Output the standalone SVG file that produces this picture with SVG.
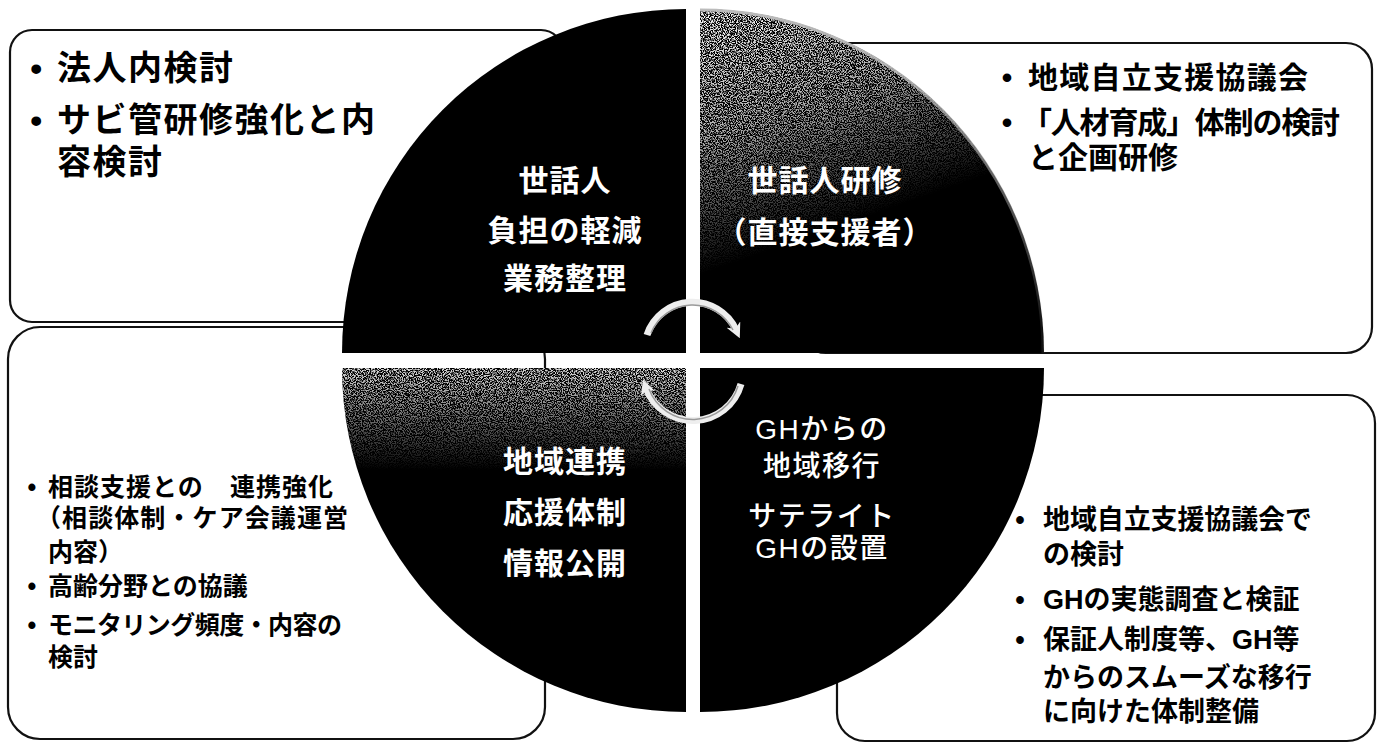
<svg xmlns="http://www.w3.org/2000/svg" width="1383" height="744" viewBox="0 0 1383 744">
<defs>
<style>
.box{fill:#fff;stroke:#111;stroke-width:2.2}
.q{fill:#000}
.t{font-family:"Liberation Sans","Noto Sans CJK JP",sans-serif;font-weight:bold;fill:#000}
.w{font-family:"Liberation Sans","Noto Sans CJK JP",sans-serif;font-weight:bold;fill:#fff;text-anchor:middle;font-size:30px;letter-spacing:1px}
.wn{font-weight:500;font-size:28px;letter-spacing:1.5px}
.arr{fill:none;stroke:#eeeeee;stroke-width:7}
.arrIn{fill:none;stroke:#9a9a9a;stroke-width:1.5}
</style>
<filter id="noise" filterUnits="userSpaceOnUse" x="330" y="0" width="730" height="730">
  <feTurbulence type="fractalNoise" baseFrequency="0.85" numOctaves="2" seed="7" result="n"/>
  <feColorMatrix in="n" type="matrix" values="0 0 0 0 0.9  0 0 0 0 0.9  0 0 0 0 0.9  6 0 0 0 -2.6"/>
</filter>
<linearGradient id="gTR" gradientUnits="userSpaceOnUse" x1="720" y1="10" x2="800" y2="240">
  <stop offset="0" stop-color="#fff" stop-opacity="1"/>
  <stop offset="0.5" stop-color="#fff" stop-opacity="0.7"/>
  <stop offset="1" stop-color="#fff" stop-opacity="0"/>
</linearGradient>
<linearGradient id="gBL" gradientUnits="userSpaceOnUse" x1="0" y1="368" x2="0" y2="470">
  <stop offset="0" stop-color="#fff" stop-opacity="0.9"/>
  <stop offset="1" stop-color="#fff" stop-opacity="0"/>
</linearGradient>
<linearGradient id="gRim" gradientUnits="userSpaceOnUse" x1="0" y1="10" x2="0" y2="330">
  <stop offset="0" stop-color="#bbb" stop-opacity="1"/>
  <stop offset="1" stop-color="#bbb" stop-opacity="0.1"/>
</linearGradient>
<mask id="mTR"><rect x="700" y="0" width="360" height="360" fill="url(#gTR)"/></mask>
<mask id="mBL"><rect x="330" y="360" width="360" height="360" fill="url(#gBL)"/></mask>
<clipPath id="cTR"><path d="M700,353 L700,9 A344,344 0 0,1 1044,353 Z"/></clipPath>
<clipPath id="cBL"><path d="M686,368 L342,368 A344,344 0 0,0 686,712 Z"/></clipPath>
<marker id="ah" viewBox="0 0 10 10" refX="4" refY="5" markerWidth="15" markerHeight="15" markerUnits="userSpaceOnUse" orient="auto">
  <path d="M0,0 L10,5 L0,10 L3,5 Z" fill="#eeeeee"/>
</marker>
</defs>

<rect x="0" y="0" width="1383" height="744" fill="#fff"/>

<g id="box-top-left">
  <rect class="box" x="10" y="30" width="553" height="292" rx="22"/>
</g>
<g id="box-bottom-left">
  <rect class="box" x="8" y="327" width="537" height="412" rx="32"/>
</g>
<g id="box-top-right">
  <rect class="box" x="800" y="43" width="572" height="310" rx="26"/>
</g>
<g id="box-bottom-right">
  <rect class="box" x="837" y="395" width="538" height="346" rx="28"/>
</g>

<g id="quadrant-top-left">
  <path class="q" d="M686,353 L686,9 A344,344 0 0,0 342,353 Z"/>
  <text class="w" x="565" y="191">世話人</text>
  <text class="w" x="565" y="241">負担の軽減</text>
  <text class="w" x="565" y="289">業務整理</text>
</g>
<g id="quadrant-top-right">
  <path class="q" d="M700,353 L700,9 A344,344 0 0,1 1044,353 Z"/>
  <g clip-path="url(#cTR)" mask="url(#mTR)">
    <rect x="700" y="0" width="360" height="360" filter="url(#noise)"/>
  </g>
  <path d="M700,10 A343,343 0 0,1 1043,353" fill="none" stroke="url(#gRim)" stroke-width="3"/>
  <text class="w" x="825" y="191">世話人研修</text>
  <text class="w" x="825" y="243">（直接支援者）</text>
</g>
<g id="quadrant-bottom-left">
  <path class="q" d="M686,368 L342,368 A344,344 0 0,0 686,712 Z"/>
  <g clip-path="url(#cBL)" mask="url(#mBL)">
    <rect x="330" y="360" width="360" height="360" filter="url(#noise)"/>
  </g>
  <text class="w" x="565" y="472">地域連携</text>
  <text class="w" x="565" y="523">応援体制</text>
  <text class="w" x="565" y="574">情報公開</text>
</g>
<g id="quadrant-bottom-right">
  <path class="q" d="M700,368 L1044,368 A344,344 0 0,1 700,712 Z"/>
  <text class="w wn" x="822" y="439">GHからの</text>
  <text class="w wn" x="822" y="476">地域移行</text>
  <text class="w wn" x="822" y="526">サテライト</text>
  <text class="w wn" x="822" y="558">GHの設置</text>
</g>

<g id="connectors">
  <path class="arr" d="M647,335 A48,48 0 0,1 736,330" marker-end="url(#ah)"/>
  <path class="arrIn" d="M651,333 A45,45 0 0,1 733,330"/>
  <path class="arr" d="M741,384 A50,50 0 0,1 646,388" marker-end="url(#ah)"/>
  <path class="arrIn" d="M738,386 A47,47 0 0,1 649,389"/>
</g>

<g id="text-top-left" class="t" font-size="34" letter-spacing="1.5">
  <text x="37" y="80" text-anchor="middle">•</text>
  <text x="57" y="80">法人内検討</text>
  <text x="37" y="132" text-anchor="middle">•</text>
  <text x="57" y="132">サビ管研修強化と内</text>
  <text x="57" y="174">容検討</text>
</g>
<g id="text-top-right" class="t" font-size="30">
  <text x="1007" y="88" text-anchor="middle">•</text>
  <text x="1028" y="88" textLength="280" lengthAdjust="spacing">地域自立支援協議会</text>
  <text x="1007" y="133" text-anchor="middle">•</text>
  <text x="1022" y="133" textLength="318" lengthAdjust="spacing">「人材育成」体制の検討</text>
  <text x="1028" y="168">と企画研修</text>
</g>
<g id="text-bottom-left" class="t" font-size="25">
  <text x="32" y="496" text-anchor="middle">•</text>
  <text x="48" y="496" textLength="285" lengthAdjust="spacing">相談支援との　連携強化</text>
  <text x="36" y="527" textLength="312" lengthAdjust="spacing">（相談体制・ケア会議運営</text>
  <text x="48" y="561">内容）</text>
  <text x="32" y="595" text-anchor="middle">•</text>
  <text x="48" y="595">高齢分野との協議</text>
  <text x="32" y="634" text-anchor="middle">•</text>
  <text x="48" y="634" textLength="294" lengthAdjust="spacing">モニタリング頻度・内容の</text>
  <text x="48" y="666">検討</text>
</g>
<g id="text-bottom-right" class="t" font-size="27">
  <text x="1020" y="529" text-anchor="middle">•</text>
  <text x="1043" y="529" textLength="269" lengthAdjust="spacing">地域自立支援協議会で</text>
  <text x="1043" y="564">の検討</text>
  <text x="1020" y="609" text-anchor="middle">•</text>
  <text x="1043" y="609">GHの実態調査と検証</text>
  <text x="1020" y="649" text-anchor="middle">•</text>
  <text x="1043" y="649">保証人制度等、GH等</text>
  <text x="1043" y="687">からのスムーズな移行</text>
  <text x="1043" y="721">に向けた体制整備</text>
</g>
</svg>
